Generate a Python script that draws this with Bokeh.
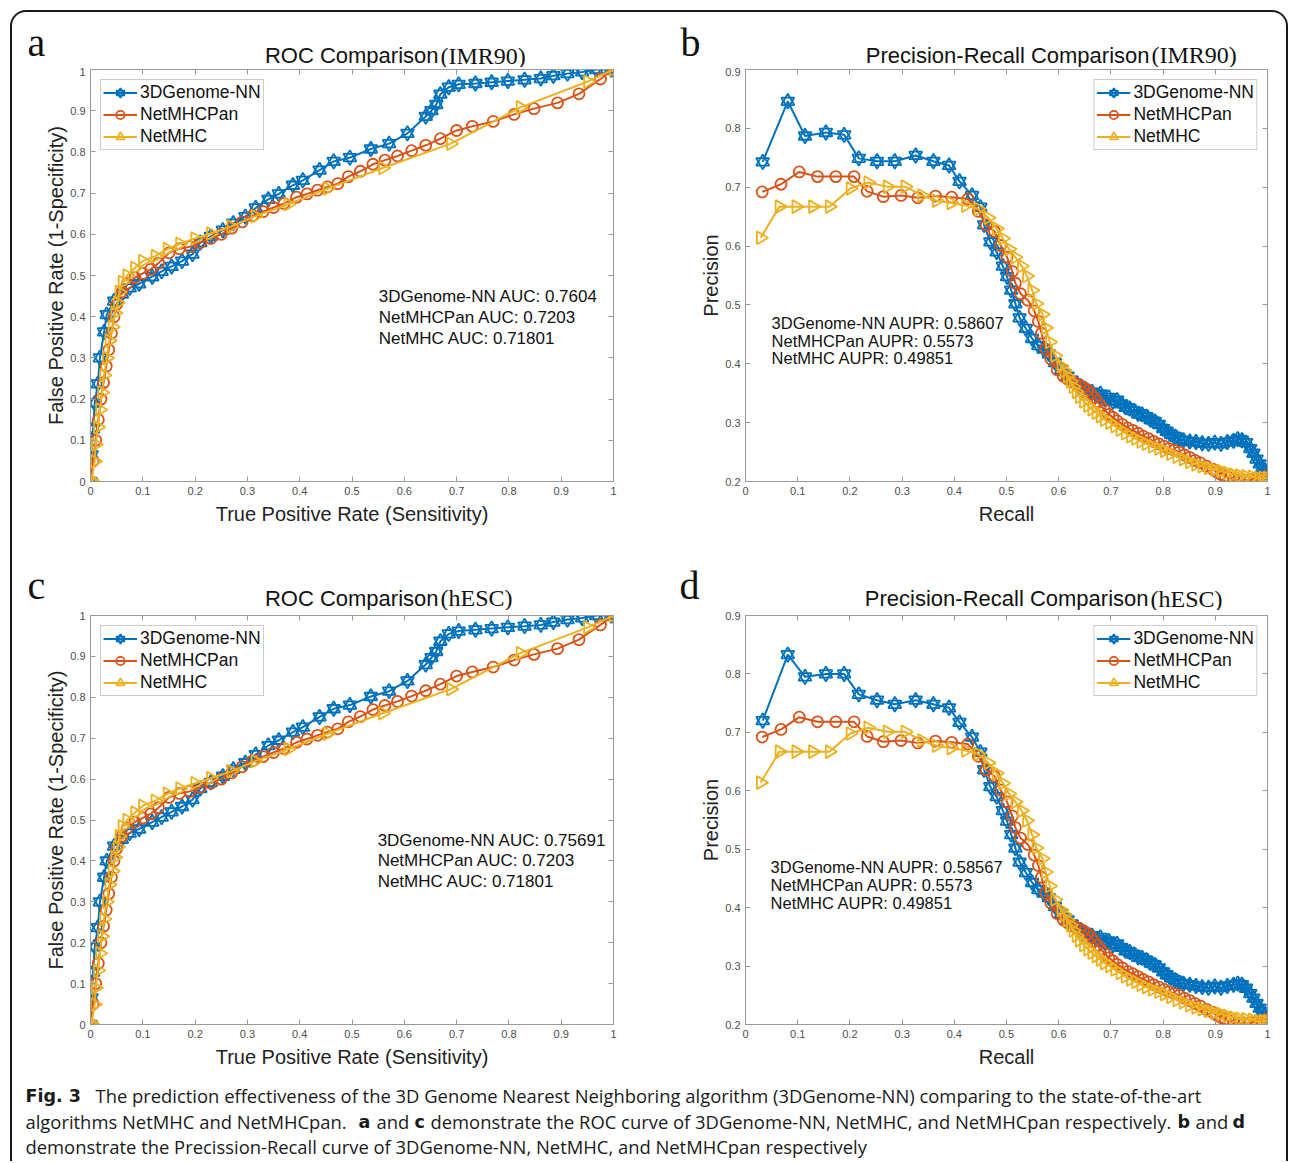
import math
from bokeh.plotting import figure
from bokeh.layouts import column, row
from bokeh.models import (Label, LinearAxis, FixedTicker, NumeralTickFormatter,
                          CustomJSTickFormatter, Range1d, ColumnDataSource, Spacer)
from bokeh.core.properties import value
from bokeh.embed import file_html
from bokeh.resources import INLINE

# ---------------------------------------------------------------- data
x_ticks = [0, 0.1, 0.2, 0.3, 0.4, 0.5, 0.6, 0.7, 0.8, 0.9, 1]
roc_y_ticks = [0, 0.1, 0.2, 0.3, 0.4, 0.5, 0.6, 0.7, 0.8, 0.9, 1]
pr_y_ticks = [0.2, 0.3, 0.4, 0.5, 0.6, 0.7, 0.8, 0.9]

series_names = ["3DGenome-NN", "NetMHCPan", "NetMHC"]

# ROC (IMR90) : (x, y) points
roc_imr_nn = [(0, 0), (0.002, 0.065), (0.005, 0.128), (0.008, 0.19), (0.014, 0.237),
              (0.018, 0.30), (0.026, 0.363), (0.031, 0.405), (0.045, 0.438), (0.06, 0.455),
              (0.075, 0.47), (0.093, 0.48), (0.118, 0.497), (0.136, 0.51), (0.155, 0.522),
              (0.175, 0.535), (0.195, 0.552), (0.21, 0.58), (0.23, 0.595), (0.253, 0.61),
              (0.273, 0.627), (0.296, 0.643), (0.316, 0.664), (0.34, 0.685), (0.36, 0.698),
              (0.387, 0.719), (0.406, 0.731), (0.438, 0.756), (0.465, 0.777), (0.496, 0.786),
              (0.536, 0.807), (0.571, 0.82), (0.606, 0.845), (0.641, 0.886), (0.652, 0.9),
              (0.661, 0.915), (0.669, 0.94), (0.685, 0.957), (0.704, 0.964), (0.736, 0.966),
              (0.767, 0.969), (0.798, 0.972), (0.83, 0.975), (0.861, 0.978), (0.885, 0.985),
              (0.912, 0.99), (0.94, 0.994), (0.967, 1.0), (0.995, 1.0), (1.0, 1.0)]
roc_imr_pan = [(0, 0), (0.005, 0.05), (0.01, 0.1), (0.015, 0.15), (0.02, 0.2), (0.025, 0.24),
               (0.03, 0.28), (0.035, 0.32), (0.04, 0.36), (0.045, 0.4), (0.05, 0.43),
               (0.06, 0.46), (0.07, 0.48), (0.085, 0.495), (0.1, 0.505), (0.115, 0.515),
               (0.13, 0.53), (0.15, 0.555), (0.17, 0.565), (0.19, 0.57), (0.21, 0.58),
               (0.23, 0.59), (0.25, 0.60), (0.27, 0.615), (0.29, 0.63), (0.31, 0.645),
               (0.33, 0.655), (0.35, 0.665), (0.37, 0.675), (0.394, 0.69), (0.414, 0.698),
               (0.434, 0.707), (0.453, 0.715), (0.473, 0.723), (0.493, 0.74), (0.516, 0.753),
               (0.54, 0.77), (0.563, 0.78), (0.587, 0.79), (0.614, 0.803), (0.641, 0.816),
               (0.669, 0.832), (0.70, 0.852), (0.73, 0.862), (0.77, 0.874), (0.81, 0.891),
               (0.848, 0.905), (0.893, 0.919), (0.934, 0.941), (0.975, 0.977), (1.0, 1.0)]
roc_imr_mhc = [(0, 0), (0.002, 0.003), (0.008, 0.049), (0.01, 0.09), (0.014, 0.132),
               (0.018, 0.174), (0.022, 0.216), (0.026, 0.258), (0.031, 0.30), (0.036, 0.342),
               (0.042, 0.375), (0.047, 0.409), (0.052, 0.434), (0.055, 0.46), (0.061, 0.484),
               (0.07, 0.50), (0.085, 0.518), (0.1, 0.535), (0.124, 0.547), (0.147, 0.564),
               (0.171, 0.577), (0.2, 0.59), (0.23, 0.602), (0.269, 0.619), (0.315, 0.644),
               (0.378, 0.673), (0.453, 0.711), (0.559, 0.761), (0.689, 0.82), (0.822, 0.908),
               (0.951, 0.971), (1.0, 1.0)]

# ROC (hESC)
roc_hesc_nn = [(0, 0), (0.002, 0.065), (0.005, 0.128), (0.008, 0.19), (0.014, 0.237),
               (0.018, 0.30), (0.026, 0.36), (0.031, 0.40), (0.045, 0.436), (0.06, 0.453),
               (0.075, 0.468), (0.093, 0.478), (0.118, 0.495), (0.136, 0.507), (0.155, 0.52),
               (0.175, 0.533), (0.195, 0.55), (0.21, 0.577), (0.23, 0.592), (0.253, 0.607),
               (0.273, 0.624), (0.296, 0.64), (0.316, 0.66), (0.34, 0.682), (0.36, 0.695),
               (0.387, 0.715), (0.406, 0.727), (0.438, 0.752), (0.465, 0.772), (0.496, 0.781),
               (0.536, 0.802), (0.571, 0.815), (0.606, 0.84), (0.641, 0.88), (0.652, 0.897),
               (0.661, 0.912), (0.669, 0.937), (0.685, 0.955), (0.704, 0.962), (0.736, 0.965),
               (0.767, 0.968), (0.798, 0.971), (0.83, 0.974), (0.861, 0.977), (0.885, 0.984),
               (0.912, 0.99), (0.94, 0.994), (0.967, 1.0), (0.995, 1.0), (1.0, 1.0)]
roc_hesc_pan = roc_imr_pan
roc_hesc_mhc = roc_imr_mhc

# Precision-Recall (IMR90)
pr_imr_nn = [(0.033, 0.743), (0.081, 0.846), (0.114, 0.787), (0.154, 0.793), (0.189, 0.789),
             (0.217, 0.749), (0.252, 0.744), (0.286, 0.744), (0.326, 0.754), (0.36, 0.744),
             (0.39, 0.737), (0.41, 0.71), (0.434, 0.686), (0.45, 0.666), (0.457, 0.636),
             (0.469, 0.607), (0.481, 0.59), (0.493, 0.566), (0.501, 0.548), (0.509, 0.525),
             (0.517, 0.502), (0.525, 0.478), (0.537, 0.46), (0.549, 0.443), (0.561, 0.431),
             (0.571, 0.425), (0.581, 0.417), (0.593, 0.402), (0.605, 0.39), (0.617, 0.379),
             (0.625, 0.372), (0.632, 0.367), (0.64, 0.362), (0.648, 0.358), (0.656, 0.35),
             (0.664, 0.352), (0.672, 0.346), (0.68, 0.349), (0.688, 0.34), (0.696, 0.343),
             (0.704, 0.336), (0.712, 0.338), (0.72, 0.332), (0.728, 0.326), (0.736, 0.324),
             (0.744, 0.32), (0.752, 0.315), (0.76, 0.314), (0.768, 0.31), (0.776, 0.305),
             (0.784, 0.302), (0.792, 0.297), (0.8, 0.29), (0.807, 0.285), (0.815, 0.28),
             (0.823, 0.276), (0.831, 0.272), (0.839, 0.27), (0.851, 0.268), (0.863, 0.267),
             (0.875, 0.265), (0.887, 0.264), (0.899, 0.266), (0.911, 0.264), (0.923, 0.267),
             (0.935, 0.269), (0.943, 0.272), (0.951, 0.27), (0.959, 0.266), (0.967, 0.256),
             (0.973, 0.248), (0.979, 0.238), (0.985, 0.23), (0.99, 0.223), (0.995, 0.217),
             (1.0, 0.212)]
pr_imr_pan = [(0.032, 0.692), (0.068, 0.705), (0.103, 0.726), (0.138, 0.718), (0.173, 0.718),
              (0.208, 0.718), (0.233, 0.693), (0.264, 0.684), (0.298, 0.686), (0.33, 0.682),
              (0.364, 0.685), (0.395, 0.683), (0.426, 0.68), (0.446, 0.659), (0.461, 0.636),
              (0.477, 0.625), (0.489, 0.601), (0.501, 0.581), (0.511, 0.557), (0.517, 0.537),
              (0.527, 0.519), (0.541, 0.508), (0.553, 0.49), (0.561, 0.472), (0.567, 0.452),
              (0.575, 0.425), (0.585, 0.408), (0.597, 0.39), (0.609, 0.379), (0.617, 0.374),
              (0.625, 0.37), (0.632, 0.367), (0.64, 0.364), (0.648, 0.36), (0.656, 0.355),
              (0.662, 0.35), (0.668, 0.343), (0.674, 0.336), (0.68, 0.329), (0.688, 0.322),
              (0.696, 0.314), (0.704, 0.309), (0.712, 0.303), (0.722, 0.297), (0.732, 0.291),
              (0.742, 0.287), (0.752, 0.282), (0.762, 0.277), (0.772, 0.273), (0.782, 0.268),
              (0.792, 0.264), (0.802, 0.26), (0.811, 0.256), (0.821, 0.253), (0.831, 0.25),
              (0.841, 0.245), (0.851, 0.241), (0.861, 0.236), (0.871, 0.232), (0.883, 0.226),
              (0.895, 0.221), (0.903, 0.216), (0.911, 0.212), (0.919, 0.209), (0.927, 0.206),
              (0.935, 0.204), (0.943, 0.202), (0.955, 0.202), (0.967, 0.203), (0.979, 0.205),
              (0.99, 0.206), (1.0, 0.209)]
pr_imr_mhc = [(0.029, 0.614), (0.065, 0.667), (0.097, 0.667), (0.129, 0.667), (0.161, 0.667),
              (0.201, 0.698), (0.235, 0.708), (0.272, 0.701), (0.306, 0.701), (0.338, 0.686),
              (0.366, 0.677), (0.394, 0.673), (0.422, 0.669), (0.446, 0.663), (0.465, 0.648),
              (0.481, 0.63), (0.493, 0.613), (0.505, 0.595), (0.517, 0.581), (0.529, 0.566),
              (0.539, 0.549), (0.549, 0.525), (0.557, 0.502), (0.569, 0.484), (0.575, 0.461),
              (0.583, 0.437), (0.593, 0.414), (0.605, 0.396), (0.611, 0.388), (0.617, 0.379),
              (0.623, 0.37), (0.628, 0.361), (0.634, 0.352), (0.64, 0.344), (0.648, 0.336),
              (0.656, 0.329), (0.664, 0.323), (0.672, 0.317), (0.68, 0.311), (0.688, 0.305),
              (0.698, 0.3), (0.708, 0.294), (0.718, 0.288), (0.728, 0.282), (0.738, 0.277),
              (0.748, 0.273), (0.758, 0.268), (0.768, 0.264), (0.78, 0.26), (0.792, 0.256),
              (0.803, 0.252), (0.815, 0.247), (0.827, 0.242), (0.839, 0.238), (0.851, 0.233),
              (0.863, 0.229), (0.875, 0.226), (0.887, 0.223), (0.899, 0.22), (0.911, 0.218),
              (0.923, 0.215), (0.935, 0.212), (0.947, 0.21), (0.959, 0.209), (0.971, 0.208),
              (0.983, 0.206), (0.992, 0.206), (1.0, 0.206)]

# Precision-Recall (hESC)
pr_hesc_nn = [(0.033, 0.72), (0.081, 0.833), (0.114, 0.795), (0.154, 0.80), (0.189, 0.80),
              (0.217, 0.765), (0.252, 0.755), (0.286, 0.748), (0.326, 0.755), (0.36, 0.748),
              (0.39, 0.742), (0.41, 0.717), (0.434, 0.692), (0.45, 0.666), (0.457, 0.636),
              (0.469, 0.607), (0.481, 0.59), (0.493, 0.566), (0.501, 0.548), (0.509, 0.525),
              (0.517, 0.502), (0.525, 0.478), (0.537, 0.46), (0.549, 0.443), (0.561, 0.431),
              (0.571, 0.425), (0.581, 0.417), (0.593, 0.402), (0.605, 0.39), (0.617, 0.379),
              (0.625, 0.372), (0.632, 0.367), (0.64, 0.362), (0.648, 0.358), (0.656, 0.35),
              (0.664, 0.352), (0.672, 0.346), (0.68, 0.349), (0.688, 0.34), (0.696, 0.343),
              (0.704, 0.336), (0.712, 0.338), (0.72, 0.332), (0.728, 0.326), (0.736, 0.324),
              (0.744, 0.32), (0.752, 0.315), (0.76, 0.314), (0.768, 0.31), (0.776, 0.305),
              (0.784, 0.302), (0.792, 0.297), (0.8, 0.29), (0.807, 0.285), (0.815, 0.28),
              (0.823, 0.276), (0.831, 0.272), (0.839, 0.27), (0.851, 0.268), (0.863, 0.266),
              (0.875, 0.264), (0.887, 0.263), (0.899, 0.265), (0.911, 0.263), (0.923, 0.266),
              (0.935, 0.268), (0.943, 0.27), (0.951, 0.268), (0.959, 0.262), (0.967, 0.253),
              (0.973, 0.245), (0.979, 0.236), (0.985, 0.228), (0.99, 0.222), (0.995, 0.216),
              (1.0, 0.211)]
pr_hesc_pan = pr_imr_pan
pr_hesc_mhc = pr_imr_mhc

auc_imr = ["3DGenome-NN AUC: 0.7604", "NetMHCPan AUC: 0.7203", "NetMHC AUC: 0.71801"]
auc_hesc = ["3DGenome-NN AUC: 0.75691", "NetMHCPan AUC: 0.7203", "NetMHC AUC: 0.71801"]
aupr_imr = ["3DGenome-NN AUPR: 0.58607", "NetMHCPan AUPR: 0.5573", "NetMHC AUPR: 0.49851"]
aupr_hesc = ["3DGenome-NN AUPR: 0.58567", "NetMHCPan AUPR: 0.5573", "NetMHC AUPR: 0.49851"]

# header texts: panel letters and titles (main part, cell-line part)
row1_letters = ["a", "b"]
row1_titles = [("ROC Comparison", "(IMR90)"), ("Precision-Recall Comparison", "(IMR90)")]
row2_letters = ["c", "d"]
row2_titles = [("ROC Comparison", "(hESC)"), ("Precision-Recall Comparison", "(hESC)")]

caption_bold = ["Fig. 3", "a", "c", "b", "d"]
caption_norm = ["The prediction effectiveness of the 3D Genome Nearest Neighboring algorithm "
                "(3DGenome-NN) comparing to the state-of-the-art",
                "algorithms NetMHC and NetMHCpan.", "and",
                "demonstrate the ROC curve of 3DGenome-NN, NetMHC, and NetMHCpan respectively.",
                "and",
                "demonstrate the Precission-Recall curve of 3DGenome-NN, NetMHC, and NetMHCpan "
                "respectively"]

# ---------------------------------------------------------------- style
BLUE, ORANGE, YELLOW = "#0072BD", "#D95319", "#EDB120"
AXC = "#9a9a9a"
TICKC = "#4d4d4d"
TXT = "#111111"
SANS = "Liberation Sans"
SERIF = "Liberation Serif"
W_LEFT, W_RIGHT = 645, 629
HEAD_H = 55


def make_fig(w, h, bl, br, bt, bb, yr, yticks, xlabel, ylabel):
    p = figure(width=w, height=h, x_range=Range1d(0, 1), y_range=Range1d(*yr), title=None,
               min_border_left=bl, min_border_right=br, min_border_top=bt, min_border_bottom=bb,
               output_backend="svg", toolbar_location=None)
    p.border_fill_alpha = 0
    p.grid.visible = False
    p.outline_line_color = AXC
    p.outline_line_width = 1
    for ax, ticks, lab in ((p.xaxis[0], x_ticks, xlabel), (p.yaxis[0], yticks, ylabel)):
        ax.ticker = FixedTicker(ticks=ticks)
        ax.formatter = NumeralTickFormatter(format="0.[0]")
        ax.axis_line_color = AXC
        ax.major_tick_line_color = AXC
        ax.major_tick_in = 5
        ax.major_tick_out = 0
        ax.minor_tick_line_color = None
        ax.major_label_text_font = SANS
        ax.major_label_text_font_size = "11px"
        ax.major_label_text_color = TICKC
        ax.major_label_standoff = 5
        ax.axis_label = lab
        ax.axis_label_text_font = SANS
        ax.axis_label_text_font_style = "normal"
        ax.axis_label_text_font_size = "20px"
        ax.axis_label_text_color = "#222222"
    p.xaxis[0].axis_label_standoff = 5
    p.yaxis[0].axis_label_standoff = 0
    for loc, ticks in (("above", x_ticks), ("right", yticks)):
        ax = LinearAxis(ticker=FixedTicker(ticks=ticks),
                        formatter=CustomJSTickFormatter(code="return ''"),
                        major_label_text_font_size="1px",
                        major_label_standoff=0, major_tick_in=5, major_tick_out=0,
                        minor_tick_line_color=None, axis_line_color=AXC,
                        major_tick_line_color=AXC)
        p.add_layout(ax, loc)
    return p


def draw(p, pts, kind, label):
    xs = [a for a, b in pts]
    ys = [b for a, b in pts]
    src = ColumnDataSource(dict(x=xs, y=ys))
    if kind == "hex":
        c = BLUE
        p.line("x", "y", source=src, color=c, line_width=2, legend_label=label)
        for m in ("triangle", "inverted_triangle"):
            p.scatter("x", "y", source=src, marker=m, size=13, line_color=c,
                      fill_alpha=0, line_width=1.8, legend_label=label)
    elif kind == "circle":
        c = ORANGE
        p.line("x", "y", source=src, color=c, line_width=2, legend_label=label)
        p.scatter("x", "y", source=src, marker="circle", size=11, line_color=c,
                  fill_alpha=0, line_width=1.8, legend_label=label)
    else:
        c = YELLOW
        p.line("x", "y", source=src, color=c, line_width=2, legend_label=label)
        p.scatter("x", "y", source=src, marker="triangle", angle=-math.pi / 2, size=13,
                  line_color=c, fill_alpha=0, line_width=1.8, legend_label=label)


def style_legend(p, loc):
    lg = p.legend[0]
    lg.location = loc
    lg.margin = 10
    lg.padding = 2
    lg.spacing = 1
    lg.label_height = 21
    lg.glyph_height = 21
    lg.glyph_width = 34
    lg.label_standoff = 3
    lg.label_text_font = SANS
    lg.label_text_font_size = "17.5px"
    lg.label_text_color = TXT
    lg.border_line_color = AXC
    lg.border_line_width = 1
    lg.background_fill_alpha = 1


def add_text(p, x, ys, lines, size):
    for y, t in zip(ys, lines):
        p.add_layout(Label(x=x, y=y, text=t, text_font=SANS, text_font_size=size,
                           text_baseline="middle", text_align="left", text_color=TXT))


def strip(height):
    h = figure(width=W_LEFT + W_RIGHT, height=height, x_range=Range1d(0, W_LEFT + W_RIGHT),
               y_range=Range1d(height, 0), min_border=0, x_axis_type=None, y_axis_type=None,
               title=None, outline_line_color=None, output_backend="svg",
               toolbar_location=None)
    h.border_fill_alpha = 0
    h.background_fill_alpha = 0
    h.grid.visible = False
    return h


def make_header(letters, titles, letter_x, title_x, title_y):
    h = strip(HEAD_H)
    h.text(x=letter_x, y=[30, 30], text=letters, text_font=value(SERIF), text_font_size="40px",
           text_baseline="middle", text_color=TXT)
    h.text(x=[tx - 1 for tx in title_x], y=title_y, text=[t[0] for t in titles],
           text_font=value(SANS), text_font_size="22px", text_align="right",
           text_baseline="middle", text_color=TXT)
    h.text(x=[tx + 1 for tx in title_x], y=title_y, text=[t[1] for t in titles],
           text_font=value(SERIF), text_font_size="24px", text_align="left",
           text_baseline="middle", text_color=TXT)
    return h


ROC_X = "True Positive Rate (Sensitivity)"
ROC_Y = "False Positive Rate (1-Specificity)"
ROW1_H, ROW2_H = 543 - HEAD_H, 522 - HEAD_H

# ---- row 1
head1 = make_header(row1_letters, row1_titles, [15, 668], [427, 1138], [43, 42.5])
pa = make_fig(W_LEFT, ROW1_H, 78, 44, 2, 74, (0, 1), roc_y_ticks, ROC_X, ROC_Y)
draw(pa, roc_imr_nn, "hex", series_names[0])
draw(pa, roc_imr_pan, "circle", series_names[1])
draw(pa, roc_imr_mhc, "tri", series_names[2])
style_legend(pa, "top_left")
add_text(pa, 0.551, [0.449, 0.398, 0.346], auc_imr, "17px")

pb = make_fig(W_RIGHT, ROW1_H, 88, 19, 2, 74, (0.2, 0.9), pr_y_ticks, "Recall", "Precision")
draw(pb, pr_imr_nn, "hex", series_names[0])
draw(pb, pr_imr_pan, "circle", series_names[1])
draw(pb, pr_imr_mhc, "tri", series_names[2])
style_legend(pb, "top_right")
add_text(pb, 0.05, [0.469, 0.4385, 0.4095], aupr_imr, "16.5px")

# ---- row 2
head2 = make_header(row2_letters, row2_titles, [15, 667], [427, 1137], [42.5, 43])
pc = make_fig(W_LEFT, ROW2_H, 78, 44, 2, 53, (0, 1), roc_y_ticks, ROC_X, ROC_Y)
draw(pc, roc_hesc_nn, "hex", series_names[0])
draw(pc, roc_hesc_pan, "circle", series_names[1])
draw(pc, roc_hesc_mhc, "tri", series_names[2])
style_legend(pc, "top_left")
add_text(pc, 0.549, [0.449, 0.40, 0.349], auc_hesc, "17px")

pd_ = make_fig(W_RIGHT, ROW2_H, 88, 19, 5, 52, (0.2, 0.9), pr_y_ticks, "Recall", "Precision")
draw(pd_, pr_hesc_nn, "hex", series_names[0])
draw(pd_, pr_hesc_pan, "circle", series_names[1])
draw(pd_, pr_hesc_mhc, "tri", series_names[2])
style_legend(pd_, "top_right")
add_text(pd_, 0.048, [0.47, 0.439, 0.408], aupr_hesc, "16.5px")

# ---- caption
CAP_H = 84
cap = strip(CAP_H)
cap.text(x=[13, 346, 402, 1165, 1220], y=[18, 44, 44, 44, 44], text=caption_bold,
         text_font=value("DejaVu Sans"), text_font_style="bold", text_font_size="17.5px",
         text_baseline="middle", text_color="#1a1a1a")
cap.text(x=[83, 13, 364, 418, 1183, 13], y=[18, 44, 44, 44, 44, 69], text=caption_norm,
         text_font=value("Open Sans"), text_font_size="18.4px", text_baseline="middle",
         text_color="#1a1a1a")

inner = column(head1, row(pa, pb), head2, row(pc, pd_), cap,
               styles={"border-top": "2px solid #1a1a1a", "border-left": "2px solid #1a1a1a",
                       "border-right": "2px solid #1a1a1a",
                       "border-top-left-radius": "16px", "border-top-right-radius": "16px"})
layout = column(Spacer(height=10), row(Spacer(width=10), inner))

open("out.html", "w").write(file_html(layout, INLINE))
